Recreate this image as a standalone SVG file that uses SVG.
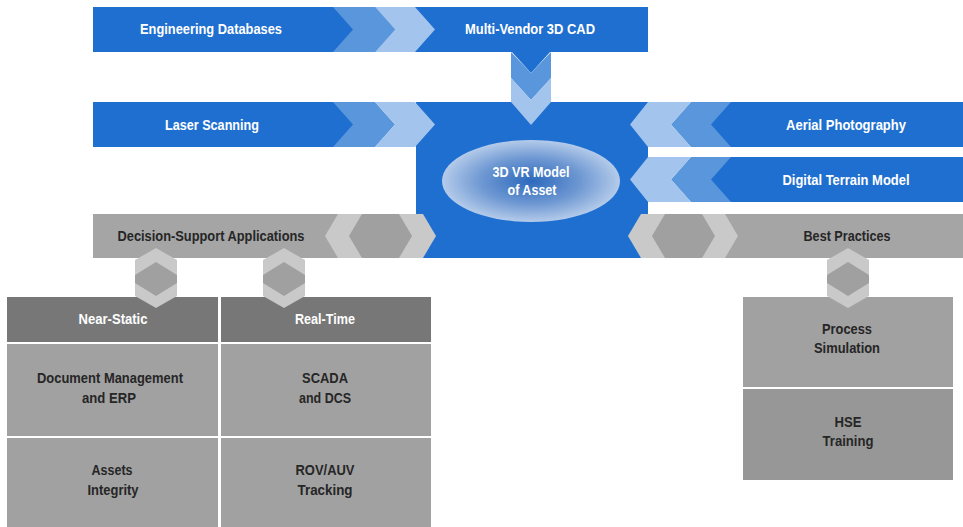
<svg xmlns="http://www.w3.org/2000/svg" width="963" height="527" viewBox="0 0 963 527">
<defs>
<radialGradient id="eg" cx="0.5" cy="0.5" r="0.5">
<stop offset="0" stop-color="#2c69bd"/>
<stop offset="0.55" stop-color="#6d97d2"/>
<stop offset="1" stop-color="#b4cbea"/>
</radialGradient>
<style>
.blue{fill:#1f6fd0}
.mid{fill:#5a96dc}
.lt{fill:#a3c4ec}
.gbar{fill:#a5a5a5}
.glt{fill:#c9c9c9}
.gdk{fill:#a0a0a0}
.hdr{fill:#777777}
.box{fill:#a1a1a1}
.box2{fill:#979797}
text{font-family:"Liberation Sans",Arial,sans-serif;font-weight:bold;font-size:15.5px;text-anchor:middle}
.w{fill:#ffffff}
.d{fill:#262626}
</style>
</defs>
<rect width="963" height="527" fill="#ffffff"/>

<g id="center-block">
<rect class="blue" x="416" y="102" width="232" height="156"/>
</g>

<g id="engineering-databases">
<rect class="blue" x="93" y="7" width="555" height="45"/>
<text class="w" x="211" y="34" textLength="142" lengthAdjust="spacingAndGlyphs">Engineering Databases</text>
</g>
<g id="multi-vendor-3d-cad">
<polygon class="blue" points="511,51 551,51 531,73"/>
<text class="w" x="530" y="34" textLength="130" lengthAdjust="spacingAndGlyphs">Multi-Vendor 3D CAD</text>
</g>

<g id="laser-scanning">
<rect class="blue" x="93" y="102" width="260" height="45"/>
<text class="w" x="212" y="130" textLength="94" lengthAdjust="spacingAndGlyphs">Laser Scanning</text>
</g>

<g id="aerial-photography">
<rect class="blue" x="711" y="102" width="252" height="45"/>
<text class="w" x="846" y="130" textLength="120" lengthAdjust="spacingAndGlyphs">Aerial Photography</text>
</g>

<g id="digital-terrain-model">
<rect class="blue" x="711" y="157" width="252" height="45"/>
<text class="w" x="846" y="185" textLength="127" lengthAdjust="spacingAndGlyphs">Digital Terrain Model</text>
</g>

<g id="decision-support-applications">
<rect class="gbar" x="93" y="214" width="323" height="44"/>
<text class="d" x="211" y="241" textLength="187" lengthAdjust="spacingAndGlyphs">Decision-Support Applications</text>
</g>

<g id="best-practices">
<rect class="gbar" x="648" y="214" width="315" height="44"/>
<text class="d" x="847" y="241" textLength="87" lengthAdjust="spacingAndGlyphs">Best Practices</text>
</g>

<g id="near-static">
<rect class="hdr" x="7" y="297" width="211" height="45"/>
<text class="w" x="113" y="324" textLength="69" lengthAdjust="spacingAndGlyphs">Near-Static</text>
</g>
<g id="real-time">
<rect class="hdr" x="221" y="297" width="210" height="45"/>
<text class="w" x="325" y="324" textLength="60" lengthAdjust="spacingAndGlyphs">Real-Time</text>
</g>
<g id="document-management">
<rect class="box" x="7" y="344" width="211" height="92"/>
<text class="d" x="110" y="383" textLength="146" lengthAdjust="spacingAndGlyphs">Document Management</text>
<text class="d" x="109" y="403" textLength="54" lengthAdjust="spacingAndGlyphs">and ERP</text>
</g>
<g id="scada-dcs">
<rect class="box" x="221" y="344" width="210" height="92"/>
<text class="d" x="325" y="383" textLength="46" lengthAdjust="spacingAndGlyphs">SCADA</text>
<text class="d" x="325" y="403" textLength="52" lengthAdjust="spacingAndGlyphs">and DCS</text>
</g>
<g id="assets-integrity">
<rect class="box" x="7" y="438" width="211" height="89"/>
<text class="d" x="112" y="475" textLength="41" lengthAdjust="spacingAndGlyphs">Assets</text>
<text class="d" x="113" y="495" textLength="51" lengthAdjust="spacingAndGlyphs">Integrity</text>
</g>
<g id="rov-auv-tracking">
<rect class="box" x="221" y="438" width="210" height="89"/>
<text class="d" x="325" y="475" textLength="59" lengthAdjust="spacingAndGlyphs">ROV/AUV</text>
<text class="d" x="325" y="495" textLength="55" lengthAdjust="spacingAndGlyphs">Tracking</text>
</g>
<g id="process-simulation">
<rect class="box" x="743" y="297" width="210" height="90"/>
<text class="d" x="847" y="334" textLength="50" lengthAdjust="spacingAndGlyphs">Process</text>
<text class="d" x="847" y="353" textLength="66" lengthAdjust="spacingAndGlyphs">Simulation</text>
</g>
<g id="hse-training">
<rect class="box2" x="743" y="389" width="210" height="91"/>
<text class="d" x="848" y="427" textLength="27" lengthAdjust="spacingAndGlyphs">HSE</text>
<text class="d" x="848" y="446" textLength="51" lengthAdjust="spacingAndGlyphs">Training</text>
</g>

<g id="connectors">
<polygon class="mid" points="333,7 375,7 395,29.5 375,52 333,52 353,29.5"/>
<polygon class="lt" points="375,7 415,7 435,29.5 415,52 375,52 395,29.5"/>
<polygon class="mid" points="511,52 531,73 551,52 551,78 531,100 511,78"/>
<polygon class="lt" points="511,78 531,100 551,78 551,102 531,125 511,102"/>
<polygon class="mid" points="333,102 375,102 395,124.5 375,147 333,147 353,124.5"/>
<polygon class="lt" points="375,102 415,102 435,124.5 415,147 375,147 395,124.5"/>
<polygon class="mid" points="731,102 691,102 671,124.5 691,147 731,147 711,124.5"/>
<polygon class="lt" points="691,102 648,102 630,124.5 648,147 691,147 671,124.5"/>
<polygon class="mid" points="731,157 691,157 671,179.5 691,202 731,202 711,179.5"/>
<polygon class="lt" points="691,157 648,157 630,179.5 648,202 691,202 671,179.5"/>
<polygon class="glt" points="325,236 338,214 423,214 436,236 423,258 338,258"/>
<polygon class="gdk" points="349,236 362,214 399,214 412,236 399,258 362,258"/>
<polygon class="glt" points="628,236 641,214 725,214 738,236 725,258 641,258"/>
<polygon class="gdk" points="652,236 665,214 702,214 715,236 702,258 665,258"/>
<polygon class="glt" points="156,248 177,260 177,296 156,308 135,296 135,260"/>
<polygon class="gdk" points="156,262 177,275 177,283 156,296 135,283 135,275"/>
<polygon class="glt" points="284,248 305,260 305,296 284,308 263,296 263,260"/>
<polygon class="gdk" points="284,262 305,275 305,283 284,296 263,283 263,275"/>
<polygon class="glt" points="848,248 869,260 869,296 848,308 827,296 827,260"/>
<polygon class="gdk" points="848,262 869,275 869,283 848,296 827,283 827,275"/>
</g>

<g id="vr-model">
<ellipse cx="531" cy="181" rx="89" ry="41" fill="url(#eg)"/>
<text class="w" x="531" y="177" textLength="77" lengthAdjust="spacingAndGlyphs">3D VR Model</text>
<text class="w" x="532" y="195" textLength="49" lengthAdjust="spacingAndGlyphs">of Asset</text>
</g>
</svg>
